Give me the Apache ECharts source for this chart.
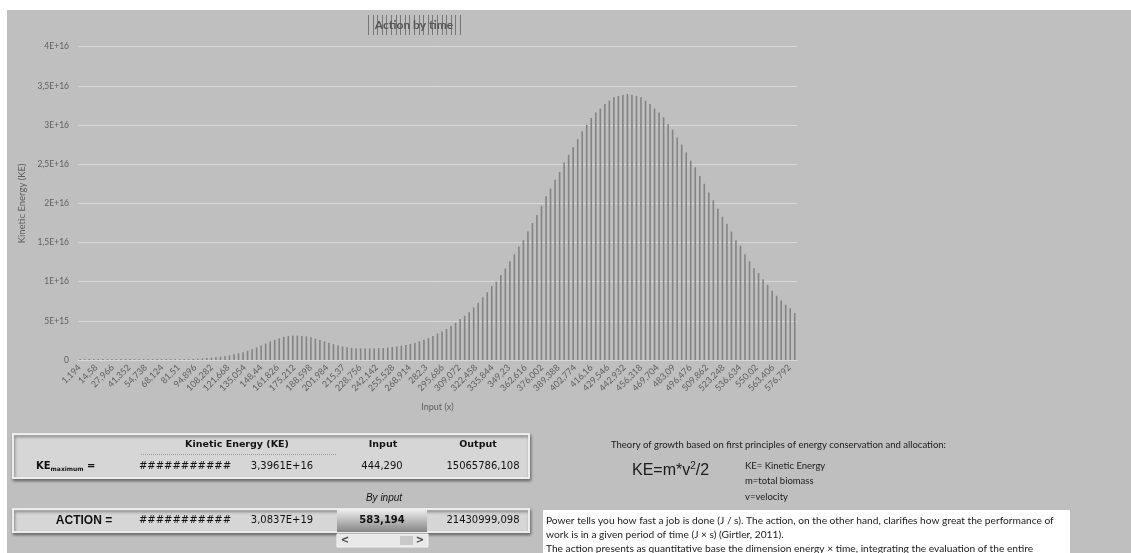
<!DOCTYPE html>
<html>
<head>
<meta charset="utf-8">
<script src="https://cdn.jsdelivr.net/npm/echarts@6/dist/echarts.min.js"></script>
<style>
  html, body { margin: 0; padding: 0; background: #ffffff; }
  #sheet { position: absolute; left: 7px; top: 10px; width: 1124px; height: 543px; background: #bfbfbf; }
  #chart { position: absolute; left: 0; top: 0; width: 1131px; height: 553px; }
</style>
</head>
<body>
<div id="sheet"></div>
<div id="chart"></div>
<script>
// Kinetic energy (KE) per input step
const keValues = [
  1.2e14, 1.2e14, 1.2e14, 1.2e14, 1.2e14, 1.2e14, 1.2e14, 1.2e14, 1.2e14, 1.2e14,
  1.2e14, 1.2e14, 1.2e14, 1.2e14, 1.2e14, 1.2e14, 1.2e14, 1.2e14, 1.2e14, 1.2e14,
  1.2e14, 1.2e14, 1.2e14, 1.2e14, 1.2e14, 1.4e14, 1.7e14, 2.0e14, 2.4e14, 2.9e14,
  3.5e14, 4.2e14, 5.0e14, 6.0e14, 7.2e14, 8.5e14, 1.0e15, 1.18e15, 1.38e15, 1.6e15,
  1.85e15, 2.1e15, 2.35e15, 2.58e15, 2.78e15, 2.95e15, 3.05e15, 3.1e15, 3.1e15, 3.08e15,
  3.02e15, 2.9e15, 2.72e15, 2.55e15, 2.38e15, 2.2e15, 2.02e15, 1.85e15, 1.72e15, 1.62e15,
  1.55e15, 1.5e15, 1.48e15, 1.47e15, 1.47e15, 1.48e15, 1.5e15, 1.53e15, 1.58e15, 1.65e15,
  1.73e15, 1.82e15, 1.93e15, 2.05e15, 2.2e15, 2.38e15, 2.58e15, 2.8e15, 3.08e15, 3.38e15,
  3.65e15, 3.95e15, 4.35e15, 4.75e15, 5.22e15, 5.65e15, 6.1e15, 6.7e15, 7.3e15, 8.0e15,
  8.65e15, 9.45e15, 1.0e16, 1.085e16, 1.17e16, 1.26e16, 1.35e16, 1.45e16, 1.53e16, 1.64e16,
  1.75e16, 1.85e16, 1.97e16, 2.09e16, 2.19e16, 2.30e16, 2.40e16, 2.52e16, 2.62e16, 2.72e16,
  2.82e16, 2.92e16, 3.00e16, 3.09e16, 3.16e16, 3.21e16, 3.27e16, 3.31e16, 3.355e16, 3.37e16,
  3.385e16, 3.3961e16, 3.385e16, 3.37e16, 3.355e16, 3.31e16, 3.27e16, 3.21e16, 3.16e16, 3.10e16,
  3.01e16, 2.94e16, 2.84e16, 2.75e16, 2.65e16, 2.545e16, 2.46e16, 2.35e16, 2.25e16, 2.14e16,
  2.04e16, 1.93e16, 1.83e16, 1.74e16, 1.64e16, 1.53e16, 1.46e16, 1.35e16, 1.26e16, 1.17e16,
  1.11e16, 1.03e16, 9.6e15, 8.85e15, 8.2e15, 7.6e15, 7.05e15, 6.6e15, 6.0e15
];

// Input (x) tick labels
const inputTicks = [
  '1,194', '14,58', '27,966', '41,352', '54,738', '68,124', '81,51', '94,896', '108,282', '121,668',
  '135,054', '148,44', '161,826', '175,212', '188,598', '201,984', '215,37', '228,756', '242,142', '255,528',
  '268,914', '282,3', '295,686', '309,072', '322,458', '335,844', '349,23', '362,616', '376,002', '389,388',
  '402,774', '416,16', '429,546', '442,932', '456,318', '469,704', '483,09', '496,476', '509,862', '523,248',
  '536,634', '550,02', '563,406', '576,792'
];

// KE axis tick labels, one per 5E+15 step
const keTicks = ['0', '5E+15', '1E+16', '1,5E+16', '2E+16', '2,5E+16', '3E+16', '3,5E+16', '4E+16'];
const keStep = 5e15;

// Summary table
const tableHeader = ['Kinetic Energy (KE)', 'Input', 'Output'];
const keMaxRow = ['###########', '3,3961E+16', '444,290', '15065786,108'];
const actionRow = ['###########', '3,0837E+19', '583,194', '21430999,098'];

const noteLines = [
  'Power tells you how fast a job is done (J / s). The action, on the other hand, clarifies how great the performance of',
  'work is in a given period of time (J \u00d7 s) (Girtler, 2011).',
  'The action presents as quantitative base the dimension energy \u00d7 time, integrating the evaluation of the entire'
];

const axisGrey = '#5f5f5f';
const labelFont = 'Lato, "DejaVu Sans", sans-serif';
const cellFont = '"DejaVu Sans", Verdana, sans-serif';

const chart = echarts.init(document.getElementById('chart'), null, { renderer: 'canvas' });

// Title with its hatch marks
const hatch = [];
for (let x = 368; x <= 461; x += 4.6) {
  hatch.push({
    type: 'line', silent: true,
    shape: { x1: Math.round(x) + 0.5, y1: 15, x2: Math.round(x) + 0.5, y2: 35 },
    style: { stroke: '#777777', lineWidth: 1 }
  });
}

function cellText(text, cx, cy, opts) {
  return {
    type: 'text', silent: true,
    style: Object.assign({
      text: text, x: cx, y: cy, align: 'center', verticalAlign: 'middle',
      font: '10px ' + cellFont, fill: '#111111'
    }, opts || {})
  };
}

function noteText(text, x, y, font) {
  return {
    type: 'text', silent: true,
    style: { text: text, x: x, y: y, verticalAlign: 'middle', font: font, fill: '#1a1a1a' }
  };
}

const panelStyle = {
  fill: '#d6d6d6', stroke: '#ededed', lineWidth: 2,
  shadowBlur: 3, shadowColor: 'rgba(60,60,60,0.6)', shadowOffsetX: 1, shadowOffsetY: 2
};

const graphics = [].concat(hatch, [
  { type: 'text', silent: true,
    style: { text: 'Action by time', x: 414, y: 25, align: 'center', verticalAlign: 'middle',
             font: 'bold 12px ' + labelFont, fill: '#555555' } },

  // KE maximum panel
  { type: 'rect', silent: true, shape: { x: 13, y: 434, width: 516, height: 44 }, style: panelStyle },
  cellText(tableHeader[0], 237, 445, { font: 'bold 9.5px ' + cellFont }),
  cellText(tableHeader[1], 383, 445, { font: 'bold 9.5px ' + cellFont }),
  cellText(tableHeader[2], 478, 445, { font: 'bold 9.5px ' + cellFont }),
  { type: 'line', silent: true, shape: { x1: 141, y1: 454.5, x2: 337, y2: 454.5 },
    style: { stroke: '#9a9a9a', lineWidth: 1, lineDash: [1, 1] } },
  { type: 'text', silent: true,
    style: { text: '{b|KE}{s|maximum}{b| =}', x: 36, y: 466, verticalAlign: 'middle',
             rich: { b: { font: 'bold 10px ' + cellFont, fill: '#111' },
                     s: { font: 'bold 6px ' + cellFont, fill: '#111', padding: [6, 0, 0, 0] } } } },
  cellText(keMaxRow[0], 185, 466),
  cellText(keMaxRow[1], 282, 466),
  cellText(keMaxRow[2], 382, 466),
  cellText(keMaxRow[3], 483, 466),

  cellText('By input', 384, 498, { font: 'italic 10px "Liberation Sans", Arial, sans-serif' }),

  // ACTION panel
  { type: 'rect', silent: true, shape: { x: 13, y: 509, width: 516, height: 23 }, style: panelStyle },
  cellText('ACTION =', 84, 520.5, { font: 'bold 12px "Liberation Sans", Arial, sans-serif' }),
  cellText(actionRow[0], 185, 520.5),
  cellText(actionRow[1], 282, 520.5),
  { type: 'rect', silent: true, shape: { x: 337, y: 509, width: 90, height: 23 },
    style: { fill: { type: 'linear', x: 0, y: 0, x2: 0, y2: 1,
                     colorStops: [{ offset: 0, color: '#f0f0f0' }, { offset: 1, color: '#858585' }] } } },
  cellText(actionRow[2], 382, 520.5, { font: 'bold 10px ' + cellFont }),
  cellText(actionRow[3], 483, 520.5),

  // input scroll bar
  { type: 'rect', silent: true, shape: { x: 337, y: 534, width: 91, height: 13 },
    style: { fill: '#e9e9e9', stroke: '#f4f4f4', lineWidth: 1 } },
  { type: 'rect', silent: true, shape: { x: 400, y: 536, width: 13, height: 9 }, style: { fill: '#c9c9c9' } },
  cellText('<', 345, 540.5, { font: 'bold 10px ' + cellFont, fill: '#444' }),
  cellText('>', 420, 540.5, { font: 'bold 10px ' + cellFont, fill: '#444' }),

  // Theory notes
  noteText('Theory of growth based on first principles of energy conservation and allocation:', 611, 445, '9.5px ' + labelFont),
  { type: 'text', silent: true,
    style: { text: '{m|KE=m*v}{p|2}{m|/2}', x: 632, y: 471, verticalAlign: 'middle',
             rich: { m: { font: '16px "Liberation Sans", Arial, sans-serif', fill: '#1a1a1a' },
                     p: { font: '10px "Liberation Sans", Arial, sans-serif', fill: '#1a1a1a', padding: [0, 0, 9, 0] } } } },
  noteText('KE= Kinetic Energy', 745, 466, '9.5px ' + labelFont),
  noteText('m=total biomass', 745, 481, '9.5px ' + labelFont),
  noteText('v=velocity', 745, 497, '9.5px ' + labelFont),

  { type: 'rect', silent: true, shape: { x: 543, y: 510, width: 527, height: 48 }, style: { fill: '#ffffff' } }
], noteLines.map((t, i) => noteText(t, 546, 521 + i * 14, '10.2px ' + labelFont)));

chart.setOption({
  animation: false,
  backgroundColor: 'transparent',
  grid: [
    { left: 78, top: 46.7, width: 719, height: 313.3 },
    { left: 79.5, top: 46.7, width: 710, height: 313.3 }
  ],
  xAxis: [
    {
      type: 'category', gridIndex: 0,
      data: keValues.map((_, i) => i),
      axisLine: { show: true, lineStyle: { color: '#d9d9d9', width: 1 } },
      axisTick: { show: false },
      axisLabel: { show: false },
      name: 'Input (x)', nameLocation: 'middle', nameGap: 43,
      nameTextStyle: { color: axisGrey, fontFamily: labelFont, fontSize: 9 }
    },
    {
      type: 'category', gridIndex: 1, boundaryGap: false,
      data: inputTicks,
      axisLine: { show: false }, axisTick: { show: false }, splitLine: { show: false },
      axisLabel: { interval: 0, rotate: 45, margin: 6, color: axisGrey, fontFamily: labelFont, fontSize: 9 }
    }
  ],
  yAxis: [
    {
      type: 'value', gridIndex: 0, min: 0, max: 4e16, interval: keStep,
      axisLine: { show: false }, axisTick: { show: false },
      splitLine: { lineStyle: { color: '#d9d9d9', width: 1 } },
      axisLabel: {
        margin: 9, color: axisGrey, fontFamily: labelFont, fontSize: 8.5,
        formatter: v => keTicks[Math.round(v / keStep)]
      },
      name: 'Kinetic Energy (KE)', nameLocation: 'middle', nameGap: 40,
      nameTextStyle: { color: axisGrey, fontFamily: labelFont, fontSize: 9.5 }
    },
    { type: 'value', gridIndex: 1, min: 0, max: 1, show: false }
  ],
  series: [{
    type: 'bar', xAxisIndex: 0, yAxisIndex: 0,
    data: keValues, barWidth: 1.6,
    itemStyle: { color: '#838383' }
  }],
  graphic: graphics
});
</script>
</body>
</html>
